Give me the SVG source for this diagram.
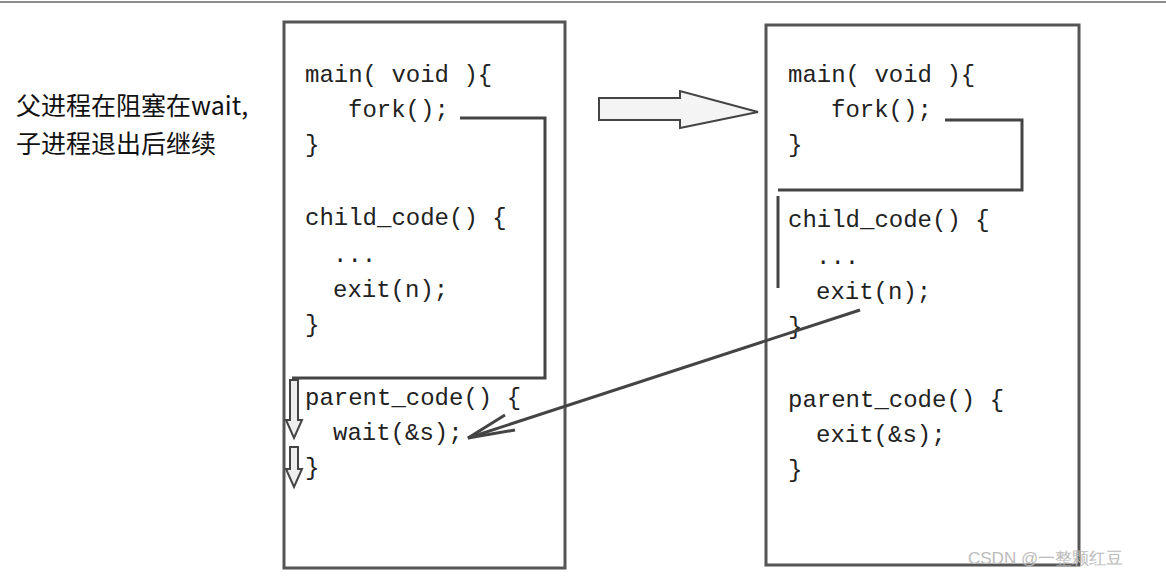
<svg xmlns="http://www.w3.org/2000/svg" width="1166" height="581" viewBox="0 0 1166 581">
<style>
.code{font-family:"Liberation Mono","DejaVu Sans Mono",monospace;font-size:24px;fill:#222}
.cn{font-family:"Noto Sans CJK SC",sans-serif;font-size:25px;fill:#111}
.box{fill:none;stroke:#555;stroke-width:3}
.ln{fill:none;stroke:#444;stroke-width:3}
</style>
<rect width="1166" height="581" fill="#fff"/>
<line x1="0" y1="2" x2="1166" y2="2" stroke="#666" stroke-width="1.5"/>
<g id="note"><text class="cn" x="16" y="115">父进程在阻塞在wait,</text><text class="cn" x="16" y="153">子进程退出后继续</text></g>
<g id="parent">
<rect class="box" x="284" y="22" width="281" height="546"/>
<text class="code" x="305" y="82">main( void ){</text>
<text class="code" x="348" y="117">fork();</text>
<text class="code" x="305" y="152">}</text>
<text class="code" x="305" y="225">child_code() {</text>
<text class="code" x="333" y="262">...</text>
<text class="code" x="333" y="297">exit(n);</text>
<text class="code" x="305" y="332">}</text>
<text class="code" x="305" y="405">parent_code() {</text>
<text class="code" x="333" y="440">wait(&amp;s);</text>
<text class="code" x="305" y="475">}</text>
</g>
<g id="child">
<rect class="box" x="766" y="25" width="313" height="540"/>
<text class="code" x="788" y="82">main( void ){</text>
<text class="code" x="831" y="117">fork();</text>
<text class="code" x="788" y="152">}</text>
<text class="code" x="788" y="227">child_code() {</text>
<text class="code" x="816" y="264">...</text>
<text class="code" x="816" y="299">exit(n);</text>
<text class="code" x="788" y="334">}</text>
<text class="code" x="788" y="407">parent_code() {</text>
<text class="code" x="816" y="442">exit(&amp;s);</text>
<text class="code" x="788" y="477">}</text>
</g>
<g id="connectors">
<polyline class="ln" points="460,118 545,118 545,378 292,378"/>
<path d="M290,380 h8 v40 h4 l-8,18 l-8,-18 h4 z" fill="#eee" stroke="#444" stroke-width="2"/>
<path d="M290,447 h8 v22 h4 l-8,18 l-8,-18 h4 z" fill="#eee" stroke="#444" stroke-width="2"/>
<polyline class="ln" points="945,120 1022,120 1022,190 778,190"/>
<line class="ln" x1="778" y1="196" x2="778" y2="288"/>
<path d="M599,98 H680 V91 L758,112 L680,128 V120 H599 Z" fill="#f4f4f4" stroke="#444" stroke-width="2"/>
<line class="ln" x1="860" y1="310" x2="468" y2="438"/>
<polyline class="ln" points="505,415 468,438 515,430"/>
</g>
<text x="968" y="564" font-family="Liberation Sans,sans-serif" font-size="17" fill="#bbb">CSDN @一整颗红豆</text>
</svg>
